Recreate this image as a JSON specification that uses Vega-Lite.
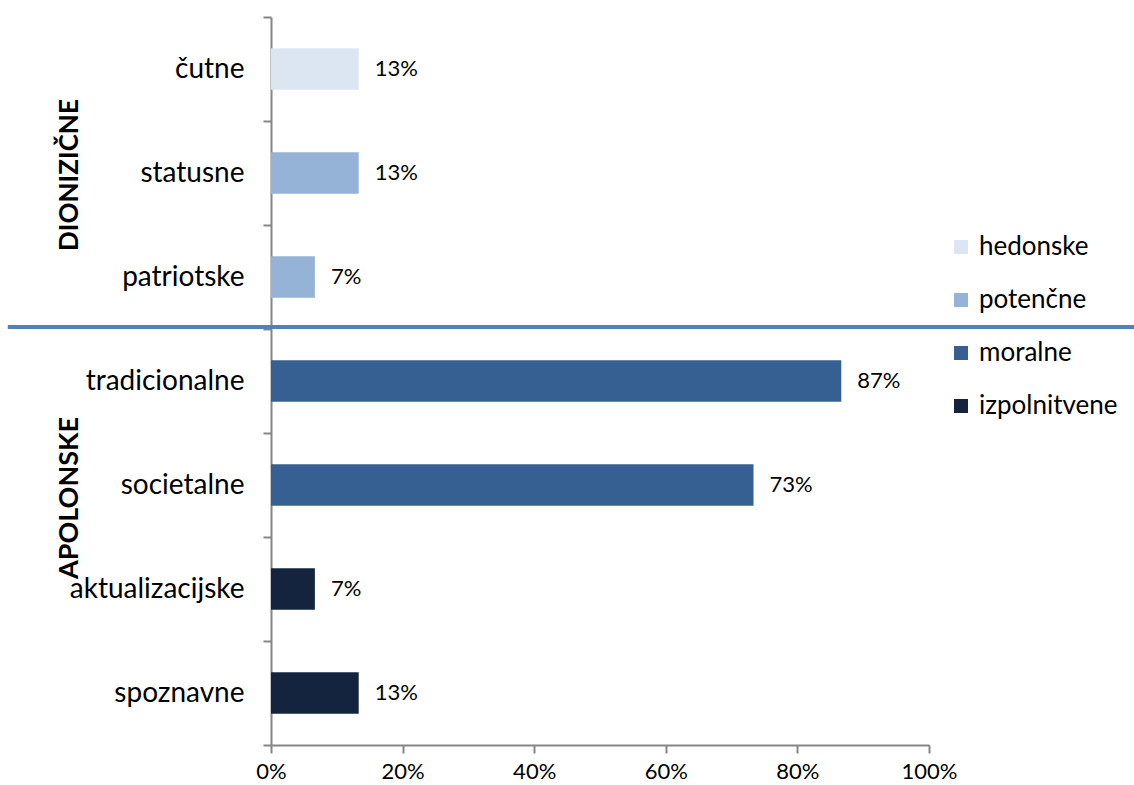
{
  "$schema": "https://vega.github.io/schema/vega-lite/v6.json",
  "autosize": "none",
  "width": 658,
  "height": 728,
  "padding": {"left": 271, "top": 17, "right": 205, "bottom": 40},
  "background": "white",
  "config": {
    "view": {"stroke": null},
    "font": "Lato",
    "axis": {"domainColor": "#868686", "tickColor": "#868686", "domainWidth": 2, "tickWidth": 2, "labelColor": "#000000", "labelFont": "Lato", "grid": false, "title": null}
  },
  "datasets": {
    "bars": [
      {"cat": "čutne", "value": 0.1333, "type": "hedonske"},
      {"cat": "statusne", "value": 0.1333, "type": "potenčne"},
      {"cat": "patriotske", "value": 0.0667, "type": "potenčne"},
      {"cat": "tradicionalne", "value": 0.8667, "type": "moralne"},
      {"cat": "societalne", "value": 0.7333, "type": "moralne"},
      {"cat": "aktualizacijske", "value": 0.0667, "type": "izpolnitvene"},
      {"cat": "spoznavne", "value": 0.1333, "type": "izpolnitvene"}
    ],
    "divider": [{"cat": "tradicionalne", "x1": -0.4, "x2": 1.32}],
    "groups": [
      {"label": "DIONIZIČNE", "cat": "statusne", "xpos": -0.305, "pos": "top"},
      {"label": "APOLONSKE", "cat": "societalne", "xpos": -0.305, "pos": "bottom"}
    ]
  },
  "layer": [
    {
      "data": {"name": "bars"},
      "mark": {"type": "bar", "height": {"band": 0.4}},
      "encoding": {
        "y": {"field": "cat", "type": "nominal", "sort": null,
          "scale": {"domain": ["čutne", "statusne", "patriotske", "tradicionalne", "societalne", "aktualizacijske", "spoznavne"], "paddingInner": 0, "paddingOuter": 0},
          "axis": {"tickBand": "extent", "tickSize": 8, "labelFontSize": 28, "labelPadding": 19, "labelLimit": 300}},
        "x": {"field": "value", "type": "quantitative",
          "scale": {"domain": [0, 1], "nice": false},
          "axis": {"values": [0, 0.2, 0.4, 0.6, 0.8, 1], "format": ".0%", "tickSize": 8, "labelFontSize": 22, "labelPadding": 8, "labelFlush": false, "labelOverlap": false}},
        "color": {"field": "type", "type": "nominal",
          "scale": {"domain": ["hedonske", "potenčne", "moralne", "izpolnitvene"], "range": ["#dce6f2", "#95b3d7", "#376092", "#14243f"]},
          "legend": {"title": null, "orient": "none", "legendX": 677, "legendY": 217, "symbolType": "square", "symbolSize": 196, "symbolStrokeWidth": 0, "symbolOpacity": 1, "labelFontSize": 26, "labelColor": "#000000", "labelOffset": 5, "rowPadding": 27, "padding": 0}}
      }
    },
    {
      "data": {"name": "bars"},
      "mark": {"type": "text", "align": "left", "baseline": "middle", "dx": 16, "fontSize": 22, "color": "#000000"},
      "encoding": {
        "y": {"field": "cat", "type": "nominal", "sort": null},
        "x": {"field": "value", "type": "quantitative"},
        "text": {"field": "value", "type": "quantitative", "format": ".0%"}
      }
    },
    {
      "data": {"name": "divider"},
      "mark": {"type": "rule", "color": "#4f81bd", "strokeWidth": 4},
      "encoding": {
        "y": {"field": "cat", "type": "nominal", "bandPosition": -0.02},
        "x": {"field": "x1", "type": "quantitative"},
        "x2": {"field": "x2"}
      }
    },
    {
      "data": {"name": "groups"},
      "transform": [{"filter": "datum.pos === 'top'"}],
      "mark": {"type": "text", "angle": 270, "align": "center", "baseline": "middle", "fontSize": 26, "fontWeight": "bold", "color": "#000000"},
      "encoding": {
        "y": {"field": "cat", "type": "nominal", "bandPosition": 0.52},
        "x": {"field": "xpos", "type": "quantitative"},
        "text": {"field": "label"}
      }
    },
    {
      "data": {"name": "groups"},
      "transform": [{"filter": "datum.pos === 'bottom'"}],
      "mark": {"type": "text", "angle": 270, "align": "center", "baseline": "middle", "fontSize": 27, "fontWeight": "bold", "color": "#000000"},
      "encoding": {
        "y": {"field": "cat", "type": "nominal", "bandPosition": 0.625},
        "x": {"field": "xpos", "type": "quantitative"},
        "text": {"field": "label"}
      }
    }
  ]
}
